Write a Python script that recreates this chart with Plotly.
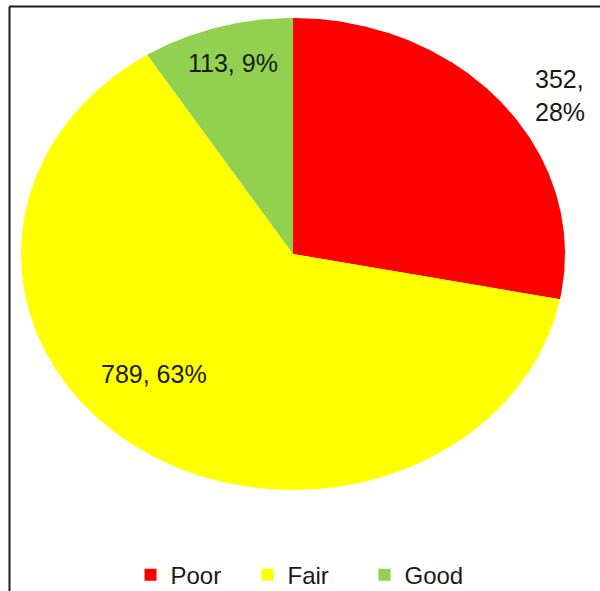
import numpy as np
import plotly.graph_objects as go

# Condition ratings and their counts
categories = ["Poor", "Fair", "Good"]
counts = [352, 789, 113]
colors = ["#FF0000", "#FFFF00", "#92D050"]

# Label placement for each slice: (radius factor, angle offset in degrees)
label_place = [(1.19, -5.0), (0.72, -11.0), (0.84, -1.0)]

total = sum(counts)
shares = [c / total for c in counts]

fig = go.Figure()

# Slices start at 12 o'clock and run clockwise
start = 90.0
mids = []
for cat, share, col in zip(categories, shares, colors):
    sweep = share * 360.0
    theta = np.radians(np.linspace(start, start - sweep, max(int(sweep * 2), 8)))
    xs = np.concatenate([[0.0], np.cos(theta), [0.0]])
    ys = np.concatenate([[0.0], np.sin(theta), [0.0]])
    fig.add_trace(go.Scatter(
        x=xs, y=ys, mode="lines", fill="toself", fillcolor=col,
        line=dict(width=0, color=col), showlegend=False, hoverinfo="skip",
    ))
    mids.append(start - sweep / 2.0)
    start -= sweep

# Legend entries with square swatches
for cat, col in zip(categories, colors):
    fig.add_trace(go.Scatter(
        x=[None], y=[None], mode="markers", name=cat,
        marker=dict(symbol="square", size=12, color=col),
    ))

# Value / percentage labels
for i, (cat, cnt, share) in enumerate(zip(categories, counts, shares)):
    rf, dang = label_place[i]
    a = np.radians(mids[i] + dang)
    sep = "<br>" if i == 0 else " "
    fig.add_annotation(
        x=rf * np.cos(a), y=rf * np.sin(a),
        text=f"{cnt},{sep}{round(share * 100)}%",
        showarrow=False, xref="x", yref="y",
        font=dict(family="Liberation Sans, Arial, sans-serif", size=25, color="#1a1a1a"),
        align="left",
    )

fig.update_layout(
    width=600, height=591,
    margin=dict(l=0, r=0, t=0, b=0, autoexpand=False),
    paper_bgcolor="white", plot_bgcolor="white",
    xaxis=dict(range=[-293 / 272, 307 / 272], visible=False, fixedrange=True),
    yaxis=dict(range=[-337 / 236, 254 / 236], visible=False, fixedrange=True),
    showlegend=True,
    legend=dict(
        orientation="h", x=0.51, xanchor="center", y=0.027, yanchor="middle",
        font=dict(family="Liberation Sans, Arial, sans-serif", size=24, color="#1a1a1a"),
        entrywidth=72, entrywidthmode="pixels", itemwidth=30,
        bgcolor="rgba(0,0,0,0)",
    ),
    shapes=[
        dict(type="line", xref="paper", yref="paper",
             x0=9.5 / 600, x1=9.5 / 600, y0=0, y1=1 - 6.5 / 591,
             line=dict(color="#1a1a1a", width=2)),
        dict(type="line", xref="paper", yref="paper",
             x0=9.5 / 600, x1=1, y0=1 - 6.5 / 591, y1=1 - 6.5 / 591,
             line=dict(color="#1a1a1a", width=2)),
    ],
)

fig.write_html("out.html")
